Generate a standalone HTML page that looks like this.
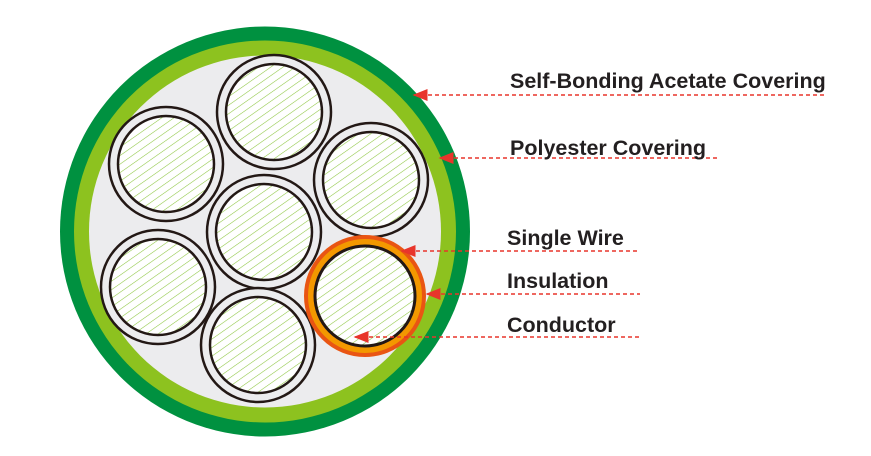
<!DOCTYPE html>
<html><head><meta charset="utf-8"><style>
html,body{margin:0;padding:0;background:#fff;width:871px;height:456px;overflow:hidden}
svg{display:block}
text{font-family:"Liberation Sans",sans-serif;font-weight:bold;font-size:21.5px;fill:#231f20}
</style></head><body>
<svg width="871" height="456" viewBox="0 0 871 456">
<defs>
<pattern id="h" patternUnits="userSpaceOnUse" width="7" height="7" patternTransform="rotate(-35)">
<rect width="7" height="7" fill="#fff"/>
<line x1="0" y1="0" x2="7" y2="0" stroke="#8dc63f" stroke-width="1.1"/>
</pattern>
<marker id="a" markerWidth="10" markerHeight="8" refX="1" refY="4" orient="auto">
<path d="M10,0 L0,4 L10,8 Z" fill="#e8352b"/>
</marker>
</defs>
<circle cx="265" cy="231.5" r="205" fill="#009140"/>
<circle cx="265" cy="231.5" r="191" fill="#8dc21f"/>
<circle cx="265" cy="231.5" r="176" fill="#ececee"/>
<g stroke="#231815" stroke-width="2.5">
<g fill="#ececee">
<circle cx="274" cy="112" r="57"/>
<circle cx="166" cy="164" r="57"/>
<circle cx="371" cy="180" r="57"/>
<circle cx="264" cy="232" r="57"/>
<circle cx="158" cy="287" r="57"/>
<circle cx="258" cy="345" r="57"/>
</g>
<g fill="url(#h)">
<circle cx="274" cy="112" r="48"/>
<circle cx="166" cy="164" r="48"/>
<circle cx="371" cy="180" r="48"/>
<circle cx="264" cy="232" r="48"/>
<circle cx="158" cy="287" r="48"/>
<circle cx="258" cy="345" r="48"/>
</g>
</g>
<circle cx="365" cy="296" r="59" fill="#f39800" stroke="#e95513" stroke-width="4"/>
<circle cx="365" cy="296" r="50" fill="url(#h)" stroke="#231815" stroke-width="3"/>
<g stroke="#e8352b" stroke-width="1.5" stroke-dasharray="4,3" fill="none">
<line x1="414" y1="95" x2="825" y2="95" marker-start="url(#a)"/>
<line x1="440" y1="158" x2="718" y2="158" marker-start="url(#a)"/>
<line x1="402" y1="251" x2="640" y2="251" marker-start="url(#a)"/>
<line x1="427" y1="294" x2="640" y2="294" marker-start="url(#a)"/>
<line x1="355" y1="337" x2="640" y2="337" marker-start="url(#a)"/>
</g>
<text x="510" y="88">Self-Bonding Acetate Covering</text>
<text x="510" y="155">Polyester Covering</text>
<text x="507" y="245">Single Wire</text>
<text x="507" y="288">Insulation</text>
<text x="507" y="332">Conductor</text>
</svg>
</body></html>
